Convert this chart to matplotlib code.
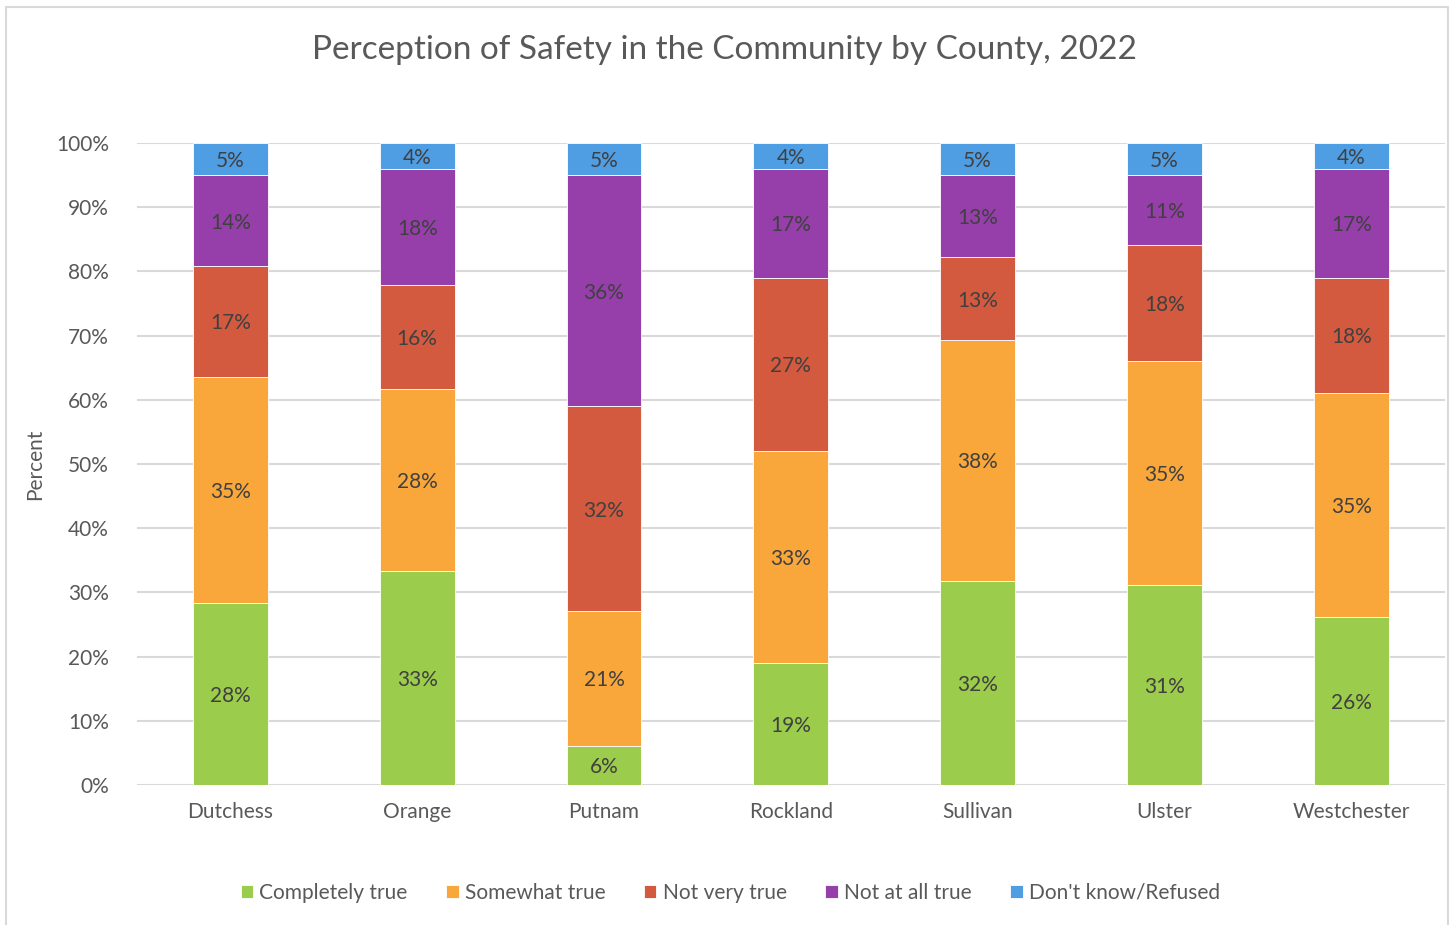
import matplotlib.pyplot as plt
from matplotlib.patches import Rectangle
import numpy as np

plt.rcParams['font.family'] = ['Lato', 'DejaVu Sans']

counties = ["Dutchess", "Orange", "Putnam", "Rockland", "Sullivan", "Ulster", "Westchester"]
series_names = ["Completely true", "Somewhat true", "Not very true", "Not at all true", "Don't know/Refused"]

completely = [28.3, 33.3, 6.1, 19.0, 31.8, 31.2, 26.2]
somewhat = [35.3, 28.4, 21.0, 33.0, 37.5, 34.8, 34.9]
not_very = [17.2, 16.2, 31.9, 27.0, 12.9, 18.1, 17.9]
not_at_all = [14.2, 18.0, 36.0, 16.9, 12.8, 10.9, 16.9]
dont_know = [5.0, 4.1, 5.0, 4.1, 5.0, 5.0, 4.1]

colors = ["#9BCC4B", "#F9A73B", "#D35A3F", "#963FAA", "#4F9DE3"]

data = [completely, somewhat, not_very, not_at_all, dont_know]

fig = plt.figure(figsize=(14.49, 9.25), dpi=100)
ax = fig.add_axes([0.0945, 0.1514, 0.9025, 0.694])

x = np.arange(len(counties))
bottom = np.zeros(len(counties))
for vals, name, col in zip(data, series_names, colors):
    vals = np.array(vals)
    ax.bar(x, vals, 0.4, bottom=bottom, color=col, edgecolor="white", linewidth=0.6, label=name)
    for xi, b, v in zip(x, bottom, vals):
        ax.text(xi, b + v / 2 - 0.3, f"{v:.0f}%", ha="center", va="center", fontsize=15, color="#404040")
    bottom += vals

ax.set_xlim(-0.5, len(counties) - 0.5)
ax.set_ylim(0, 100)
ax.set_yticks(range(0, 101, 10))
ax.set_yticklabels([f"{t}%" for t in range(0, 101, 10)])
ax.set_xticks(x)
ax.set_xticklabels(counties)
ax.tick_params(axis="both", length=0, labelsize=15, labelcolor="#595959")
ax.tick_params(axis="x", pad=12)
ax.tick_params(axis="y", pad=20)
ax.grid(axis="y", color="#D9D9D9", linewidth=1.5)
ax.set_axisbelow(True)
for s in ax.spines.values():
    s.set_visible(False)

ax.set_ylabel("Percent", fontsize=15, color="#595959", labelpad=8)

fig.suptitle("Perception of Safety in the Community by County, 2022", x=0.5, y=0.946,
             va="center", fontsize=24, color="#595959")

fig.legend(loc="center", bbox_to_anchor=(0.504, 0.035), ncol=5, frameon=False,
           fontsize=15, labelcolor="#595959", handlelength=0.6, handleheight=0.6,
           handletextpad=0.3, columnspacing=1.85)

fig.patches.append(Rectangle((0.004, -0.01), 0.995, 1.002, transform=fig.transFigure,
                             fill=False, edgecolor="#D9D9D9", linewidth=1.5))

fig.savefig("out.png", dpi=100)
